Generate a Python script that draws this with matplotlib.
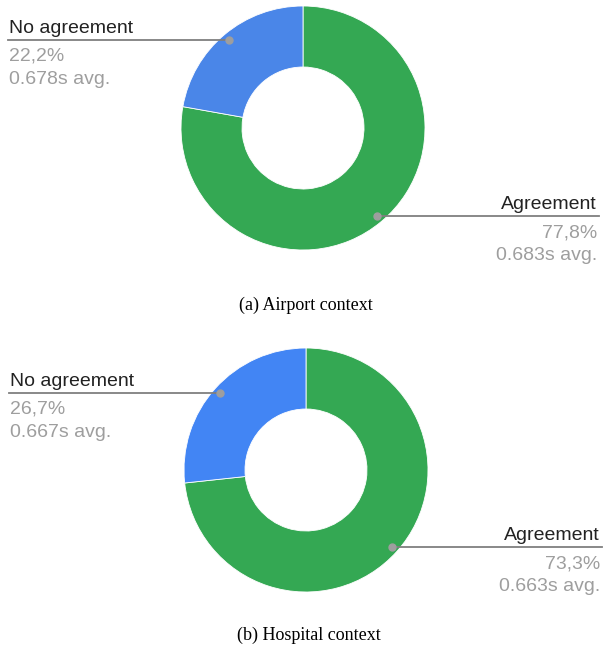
import numpy as np
import matplotlib
matplotlib.use("Agg")
import matplotlib.pyplot as plt

# --- data ---
labels = ["Agreement", "No agreement"]
airport_pct = [77.8, 22.2]
airport_avg = [0.683, 0.678]
hospital_pct = [73.3, 26.7]
hospital_avg = [0.663, 0.667]
captions = ["(a) Airport context", "(b) Hospital context"]

GREEN = "#34A853"
BLUES = ["#4A86E8", "#4285F4"]
W, H = 603, 648

fig = plt.figure(figsize=(W / 100, H / 100), dpi=100)
ax = fig.add_axes([0, 0, 1, 1])
ax.set_xlim(0, W)
ax.set_ylim(0, H)
ax.set_aspect("equal")
ax.axis("off")

SANS = ["Liberation Sans", "DejaVu Sans"]
SERIF = ["Liberation Serif", "DejaVu Serif"]

def fmt_pct(v):
    return f"{v:.1f}%".replace(".", ",")

def donut(cx, cy, R, pct, avg, blue, left_x, right_x, caption, cap_y):
    y0 = H - cy
    wedges, _ = ax.pie(pct, colors=[GREEN, blue], startangle=90, counterclock=False,
                       center=(cx, y0), radius=R, frame=True,
                       wedgeprops=dict(width=R * 0.5, edgecolor="white", linewidth=0.6))
    for i, w in enumerate(wedges):
        mid = np.deg2rad((w.theta1 + w.theta2) / 2)
        dx, dy = cx + 0.945 * R * np.cos(mid), y0 + 0.945 * R * np.sin(mid)
        if i == 0:
            x_end, ha = right_x, "right"
        else:
            x_end, ha = left_x, "left"
        ax.plot([dx, x_end], [dy, dy], color="#7f7f7f", lw=1.3, zorder=3)
        ax.plot(dx, dy, "o", color="#9e9e9e", ms=5, zorder=4)
        tx = x_end + (1 if ha == "left" else -2)
        ax.text(tx, dy + 7, labels[i], ha=ha, va="baseline", fontsize=14,
                color="#222222", family=SANS)
        ax.text(tx, dy - 21, fmt_pct(pct[i]), ha=ha, va="baseline", fontsize=14,
                color="#9e9e9e", family=SANS)
        ax.text(tx, dy - 44, f"{avg[i]:.3f}s avg.", ha=ha, va="baseline", fontsize=14,
                color="#9e9e9e", family=SANS)
    ax.text(cx + 3, H - cap_y, caption, ha="center", va="baseline", fontsize=13,
            color="black", family=SERIF)

donut(303, 128, 122, airport_pct, airport_avg, BLUES[0], 8, 599, captions[0], 310)
donut(306, 470, 122, hospital_pct, hospital_avg, BLUES[1], 9, 602, captions[1], 640)

ax.set_xlim(0, W)
ax.set_ylim(0, H)
ax.axis("off")
fig.savefig("out.png", dpi=100)
